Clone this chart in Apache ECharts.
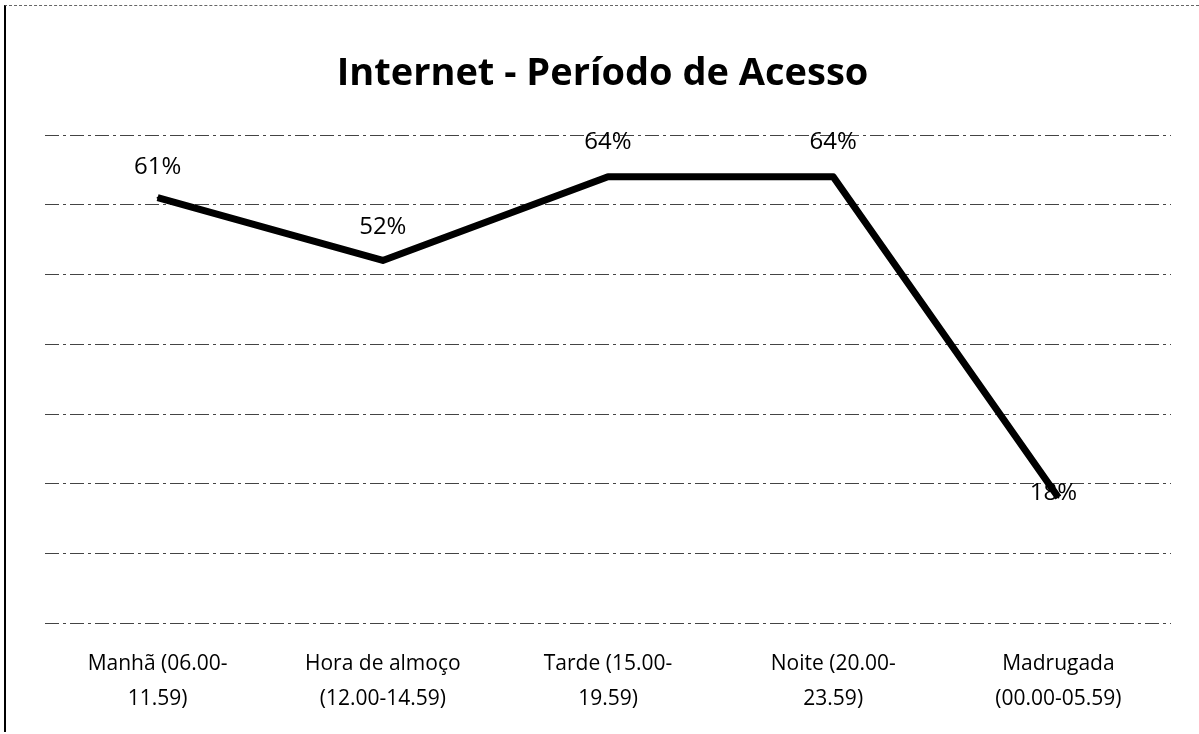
<!DOCTYPE html>
<html>
<head>
    <meta charset="utf-8">
    <title>Internet - Período de Acesso</title>
    <script src="https://cdn.jsdelivr.net/npm/echarts@6/dist/echarts.min.js"></script>
    <style>
        html, body { margin: 0; padding: 0; background: #fff; }
        #main {
            width: 1193px; height: 726px;
            margin-left: 4px; margin-top: 5px;
            border-left: 2px solid #000;
            border-top: 1px dashed #666;
        }
    </style>
</head>
<body>
    <div id="main"></div>

    <script>
        const categories = [
            'Manhã (06.00-\n11.59)',
            'Hora de almoço\n(12.00-14.59)',
            'Tarde (15.00-\n19.59)',
            'Noite (20.00-\n23.59)',
            'Madrugada\n(00.00-05.59)'
        ];
        const values = [61, 52, 64, 64, 18];
        const yTicks = [0, 10, 20, 30, 40, 50, 60, 70];

        const font = 'Open Sans, Liberation Sans, sans-serif';

        // label placement per point, roughly as in the reference
        const labelOffsets = [[0, 0], [0, -2], [0, -4], [0, -4], [-5, 27]];

        const chart = echarts.init(document.getElementById('main'));
        chart.setOption({
            title: {
                text: 'Internet - Período de Acesso',
                left: 'center',
                top: 44,
                textStyle: { fontFamily: font, fontSize: 38, fontWeight: 'bold', color: '#000' }
            },
            grid: { left: 39, right: 28, top: 129, bottom: 109 },
            xAxis: {
                type: 'category',
                data: categories,
                boundaryGap: true,
                axisLine: { show: false },
                axisTick: { show: false },
                axisLabel: {
                    fontFamily: font, fontSize: 21, color: '#000',
                    lineHeight: 35, margin: 24, interval: 0
                }
            },
            yAxis: {
                type: 'value',
                min: yTicks[0],
                max: yTicks[yTicks.length - 1],
                interval: 10,
                axisLabel: { show: false },
                axisLine: { show: false },
                axisTick: { show: false },
                splitLine: {
                    lineStyle: { color: '#444', width: 1.2, type: [14, 4, 3, 4] }
                }
            },
            series: [{
                type: 'line',
                data: values.map((v, i) => ({
                    value: v,
                    label: { offset: labelOffsets[i] }
                })),
                symbol: 'circle',
                symbolSize: 2,
                itemStyle: { color: '#000' },
                lineStyle: { color: '#000', width: 7, join: 'round' },
                label: {
                    show: true,
                    position: 'top',
                    distance: 18,
                    formatter: p => p.value + '%',
                    fontFamily: font, fontSize: 24, color: '#000'
                },
                animation: false
            }]
        });
    </script>
</body>
</html>
